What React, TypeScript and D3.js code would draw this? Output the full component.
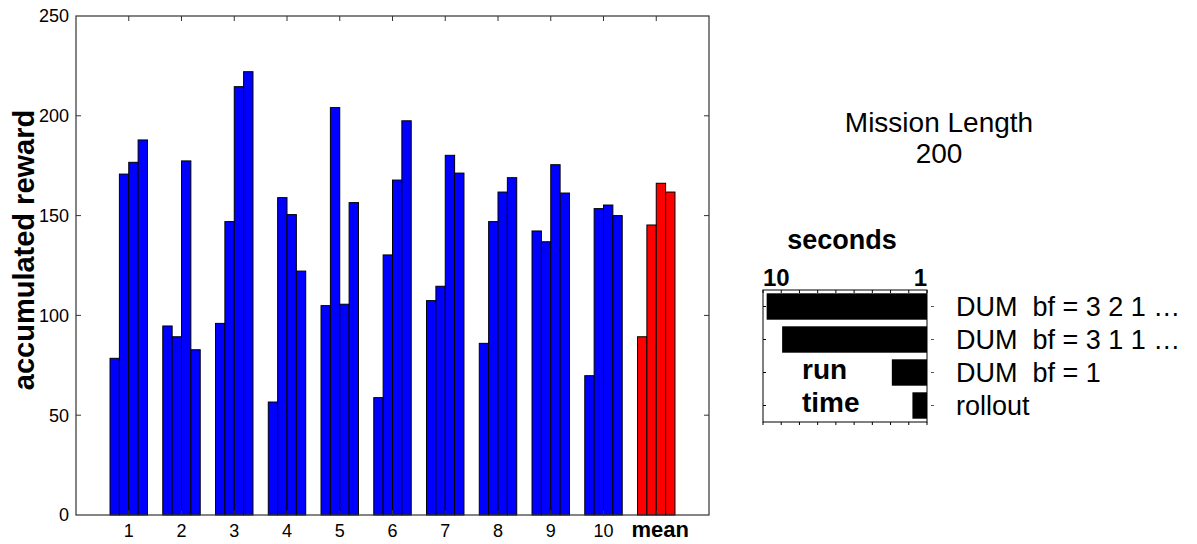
import React from 'react';
import * as d3 from 'd3';

// accumulated reward per mission, four planners each
const categories = ['1', '2', '3', '4', '5', '6', '7', '8', '9', '10', 'mean'];
const series1 = [78.5, 94.7, 96.0, 56.6, 104.9, 58.8, 107.4, 86.0, 142.3, 69.8, 89.3];
const series2 = [170.8, 89.3, 147.0, 159.0, 204.1, 130.3, 114.6, 147.0, 136.9, 153.5, 145.3];
const series3 = [176.7, 177.4, 214.6, 150.5, 105.6, 167.8, 180.2, 161.8, 175.5, 155.3, 166.2];
const series4 = [187.9, 82.8, 222.1, 122.2, 156.5, 197.5, 171.3, 169.0, 161.3, 150.0, 161.8];
const yTicks = [0, 50, 100, 150, 200, 250];

// run time inset
const runLabels = ['DUM  bf = 3 2 1 \u2026', 'DUM  bf = 3 1 1 \u2026', 'DUM  bf = 1', 'rollout'];
const runSeconds = [9.8, 8.95, 2.93, 1.8];
const secTicks = [10, 9, 8, 7, 6, 5, 4, 3, 2, 1];

const FONT = '"Liberation Sans", Arial, sans-serif';

export default function App() {
  const series = [series1, series2, series3, series4];

  const x = d3.scaleLinear().domain([0, 12]).range([76, 709]);
  const y = d3.scaleLinear().domain([0, 250]).range([515, 16]);
  const groupW = 0.71 * (x(1) - x(0));
  const inner = d3.scaleBand<number>().domain([0, 1, 2, 3]).range([-groupW / 2, groupW / 2]);

  const sx = d3.scaleLinear().domain([10, 1]).range([763, 927]);
  const sy = d3.scaleBand<number>().domain([0, 1, 2, 3]).range([290, 422]).paddingInner(0.2).paddingOuter(0.1);

  const frame = '#333';

  return (
    <svg width={1197} height={544} style={{ position: 'fixed', left: 0, top: 0 }} fontFamily={FONT}>
      <rect width={1197} height={544} fill="#fff" />

      {/* bars */}
      {categories.map((c, i) =>
        series.map((s, k) => {
          const v = s[i];
          const cx = x(i + 1);
          return (
            <rect
              key={c + k}
              x={cx + (inner(k) as number)}
              y={y(v)}
              width={inner.bandwidth()}
              height={y(0) - y(v)}
              fill={c === 'mean' ? '#ff0000' : '#0000ff'}
              stroke="#000"
              strokeWidth={1}
            />
          );
        })
      )}

      {/* main frame */}
      <rect x={x(0)} y={y(250)} width={x(12) - x(0)} height={y(0) - y(250)} fill="none" stroke={frame} strokeWidth={1.2} />
      {yTicks.slice(1, -1).map(t => (
        <g key={t} stroke={frame}>
          <line x1={x(0)} x2={x(0) + 5} y1={y(t)} y2={y(t)} />
          <line x1={x(12)} x2={x(12) - 5} y1={y(t)} y2={y(t)} />
        </g>
      ))}
      {categories.map((c, i) => (
        <g key={c} stroke={frame}>
          <line x1={x(i + 1)} x2={x(i + 1)} y1={y(250)} y2={y(250) + 5} />
          <line x1={x(i + 1)} x2={x(i + 1)} y1={y(0)} y2={y(0) - 5} />
        </g>
      ))}
      {yTicks.map(t => (
        <text key={t} x={69} y={y(t)} dy="0.35em" textAnchor="end" fontSize={18} fill="#000">
          {t}
        </text>
      ))}
      {categories.map((c, i) => (
        <text
          key={c}
          x={x(i + 1) + (c === 'mean' ? 4 : 0)}
          y={537}
          textAnchor="middle"
          fontSize={c === 'mean' ? 22 : 18}
          fontWeight={c === 'mean' ? 'bold' : 'normal'}
          fill="#000"
        >
          {c}
        </text>
      ))}
      <text transform="translate(34,250) rotate(-90)" textAnchor="middle" fontSize={29} fontWeight="bold" fill="#000">
        accumulated reward
      </text>

      {/* title */}
      <text x={939} y={132} textAnchor="middle" fontSize={28} fill="#000">Mission Length</text>
      <text x={939} y={163} textAnchor="middle" fontSize={28} fill="#000">200</text>

      {/* run time inset */}
      {runSeconds.map((v, i) => (
        <rect key={i} x={sx(v)} y={sy(i)} width={sx(1) - sx(v)} height={sy.bandwidth()} fill="#000" />
      ))}
      <rect x={sx(10)} y={290} width={sx(1) - sx(10)} height={132} fill="none" stroke="#000" strokeWidth={1} />
      {secTicks.map(t => (
        <g key={t} stroke="#000">
          <line x1={sx(t)} x2={sx(t)} y1={290} y2={293} />
          <line x1={sx(t)} x2={sx(t)} y1={422} y2={425} />
        </g>
      ))}
      {runLabels.map((l, i) => {
        const cy = (sy(i) as number) + sy.bandwidth() / 2;
        return (
          <g key={l}>
            <line x1={sx(10)} x2={sx(10) + 3} y1={cy} y2={cy} stroke="#000" />
            <line x1={931} x2={934} y1={cy} y2={cy} stroke="#555" />
            <text x={956} y={cy} dy="0.36em" fontSize={27} fill="#000" style={{ whiteSpace: 'pre' }}>{l}</text>
          </g>
        );
      })}
      <text x={sx(10)} y={286} fontSize={24} fontWeight="bold" fill="#000">10</text>
      <text x={sx(1)} y={286} textAnchor="end" fontSize={24} fontWeight="bold" fill="#000">1</text>
      <text x={842} y={249} textAnchor="middle" fontSize={27} fontWeight="bold" fill="#000">seconds</text>
      <text x={802} y={379} fontSize={28} fontWeight="bold" fill="#000">run</text>
      <text x={802} y={412} fontSize={28} fontWeight="bold" fill="#000">time</text>
    </svg>
  );
}
